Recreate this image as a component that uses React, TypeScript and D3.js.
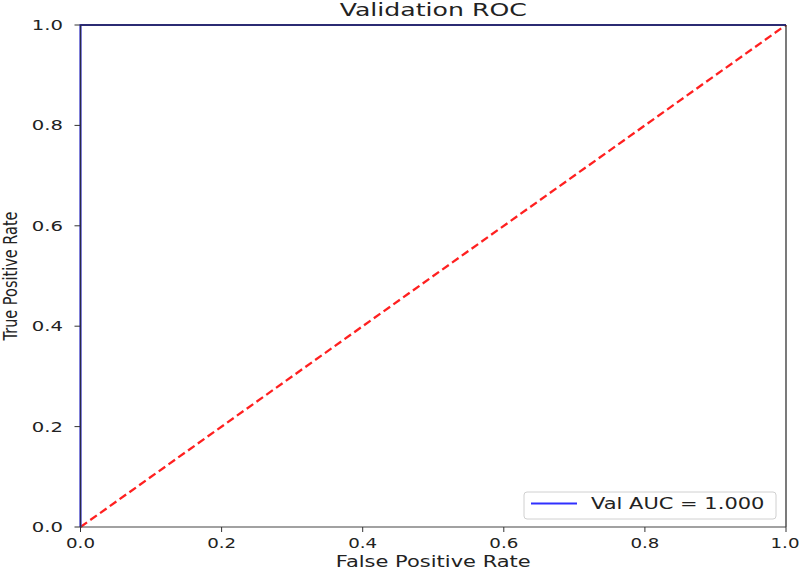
import React from "react";
import * as d3 from "d3";

// ROC data
const valFpr = [0, 0, 1];
const valTpr = [0, 1, 1];
const chanceX = [0, 1];
const chanceY = [0, 1];
const ticks = [0, 0.2, 0.4, 0.6, 0.8, 1.0];
const aucLabel = "Val AUC = 1.000";

const W = 800;
const H = 571;
const left = 80.5;
const right = 786;
const top = 25;
const bottom = 527;
const SX = 1.4; // the picture is stretched sideways
const FONT = "DejaVu Sans, sans-serif";

const App = () => {
  const x = d3.scaleLinear().domain([0, 1]).range([left, right]);
  const y = d3.scaleLinear().domain([0, 1]).range([bottom, top]);

  const line = d3
    .line<number>()
    .x((d, i) => x(valFpr[i]))
    .y((d, i) => y(valTpr[i]));
  const diag = d3
    .line<number>()
    .x((d, i) => x(chanceX[i]))
    .y((d, i) => y(chanceY[i]));

  const txt = (
    s: string,
    tx: number,
    ty: number,
    size: number,
    anchor: string,
    sx: number = SX
  ) => (
    <text
      transform={`translate(${tx},${ty}) scale(${sx},1)`}
      fontSize={size}
      fontFamily={FONT}
      textAnchor={anchor}
      fill="#222"
    >
      {s}
    </text>
  );

  return (
    <svg
      width={W}
      height={H}
      style={{ position: "absolute", left: 0, top: 0, background: "#fff" }}
    >
      <rect width={W} height={H} fill="#fff" />
      {txt("Validation ROC", (left + right) / 2, 16, 18, "middle")}

      {/* chance line */}
      <path
        d={diag(chanceX) || ""}
        fill="none"
        stroke="#ff2020"
        strokeWidth={2.3}
        strokeDasharray="8,4"
      />
      {/* validation curve */}
      <path d={line(valFpr) || ""} fill="none" stroke="#3030ff" strokeWidth={2} />

      {/* spines */}
      <line x1={left} x2={left} y1={top} y2={bottom} stroke="#2a2a44" strokeWidth={1.4} />
      <line x1={left} x2={right} y1={top} y2={top} stroke="#2a2a44" strokeWidth={1.4} />
      <line x1={right} x2={right} y1={top} y2={bottom} stroke="#222" strokeWidth={1.2} />
      <line x1={left} x2={right} y1={bottom} y2={bottom} stroke="#444" strokeWidth={1.2} />

      {ticks.map((t) => (
        <g key={"x" + t}>
          <line x1={x(t)} x2={x(t)} y1={bottom} y2={bottom + 5} stroke="#333" />
          {txt(d3.format(".1f")(t), t === 1 ? x(t) - 1 : x(t), 548, 13.5, "middle", 1.35)}
        </g>
      ))}
      {ticks.map((t) => (
        <g key={"y" + t}>
          <line x1={left - 6} x2={left} y1={y(t)} y2={y(t)} stroke="#333" />
          {txt(d3.format(".1f")(t), 63, y(t) + 5, 14, "end")}
        </g>
      ))}

      {txt("False Positive Rate", (left + right) / 2, 567, 15, "middle")}
      <text
        transform={`translate(17,${(top + bottom) / 2}) rotate(-90) scale(1,1.3)`}
        fontSize={14.5}
        fontFamily={FONT}
        textAnchor="middle"
        fill="#222"
      >
        True Positive Rate
      </text>

      {/* legend */}
      <rect
        x={524}
        y={492}
        width={252}
        height={27}
        rx={3}
        fill="#fff"
        fillOpacity={0.8}
        stroke="#d0d0d0"
      />
      <line x1={531} x2={577} y1={503.5} y2={503.5} stroke="#3030ff" strokeWidth={2} />
      {txt(aucLabel, 591, 509, 15, "start")}
    </svg>
  );
};

export default App;
